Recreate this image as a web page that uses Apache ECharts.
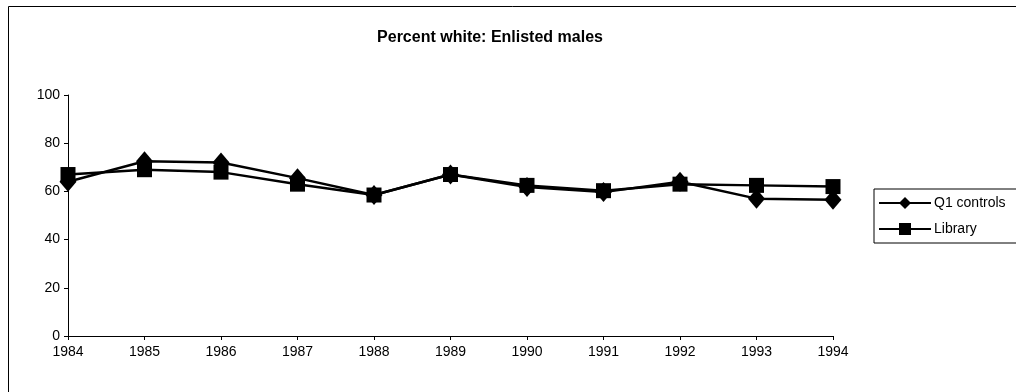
<!DOCTYPE html>
<html>
<head>
<meta charset="utf-8">
<script src="https://cdn.jsdelivr.net/npm/echarts@6/dist/echarts.min.js"></script>
<style>
  html, body { margin: 0; padding: 0; background: #fff; }
  #chart { width: 1016px; height: 392px; }
</style>
</head>
<body>
<div id="chart"></div>
<script>
// Years on the category axis
const years = ['1984', '1985', '1986', '1987', '1988', '1989', '1990', '1991', '1992', '1993', '1994'];
// Percent white among enlisted males
const q1Controls = [64, 72.5, 72, 65.5, 58.5, 67, 61.8, 59.7, 64, 57, 56.5];
const library    = [67, 69, 68, 63, 58.5, 67, 62.5, 60.3, 63, 62.5, 62];
// Value-axis ticks
const yMin = 0, yMax = 100, yStep = 20;

const FONT = '"Liberation Sans", Arial, sans-serif';
const chart = echarts.init(document.getElementById('chart'), null, { renderer: 'canvas' });

chart.setOption({
  animation: false,
  backgroundColor: '#fff',
  graphic: [{
    type: 'rect',
    shape: { x: 8.5, y: 6.5, width: 1030, height: 420 },
    style: { fill: 'none', stroke: '#000', lineWidth: 1 },
    silent: true
  }],
  title: {
    text: 'Percent white: Enlisted males',
    left: 485, top: 25, textAlign: 'center',
    textStyle: { fontFamily: FONT, fontSize: 16, fontWeight: 'bold', color: '#000' }
  },
  legend: {
    orient: 'vertical',
    left: 874, top: 189,
    padding: [7, 20, 7, 4],
    itemGap: 12,
    itemWidth: 52, itemHeight: 15,
    borderColor: '#000', borderWidth: 1,
    textStyle: { fontFamily: FONT, fontSize: 14, color: '#000', padding: [0, 0, 0, -2] },
    data: ['Q1 controls', 'Library']
  },
  grid: { left: 68, right: 183, top: 95, bottom: 56 },
  xAxis: {
    type: 'category',
    data: years,
    boundaryGap: false,
    axisLine: { lineStyle: { color: '#000', width: 1 } },
    axisTick: { show: true, length: 4, lineStyle: { color: '#000' } },
    axisLabel: { fontFamily: FONT, fontSize: 14, color: '#000', margin: 9 },
    splitLine: { show: false }
  },
  yAxis: {
    type: 'value',
    min: yMin, max: yMax, interval: yStep,
    axisLine: { show: true, lineStyle: { color: '#000', width: 1 } },
    axisTick: { show: true, length: 4, lineStyle: { color: '#000' } },
    axisLabel: { fontFamily: FONT, fontSize: 14, color: '#000', margin: 8 },
    splitLine: { show: false }
  },
  series: [
    {
      name: 'Q1 controls',
      type: 'line',
      data: q1Controls,
      symbol: 'diamond',
      symbolSize: [17, 20],
      itemStyle: { color: '#000' },
      lineStyle: { color: '#000', width: 2.5 },
      z: 3
    },
    {
      name: 'Library',
      type: 'line',
      data: library,
      symbol: 'rect',
      symbolSize: 15,
      itemStyle: { color: '#000' },
      lineStyle: { color: '#000', width: 2.5 },
      z: 2
    }
  ]
});
</script>
</body>
</html>
